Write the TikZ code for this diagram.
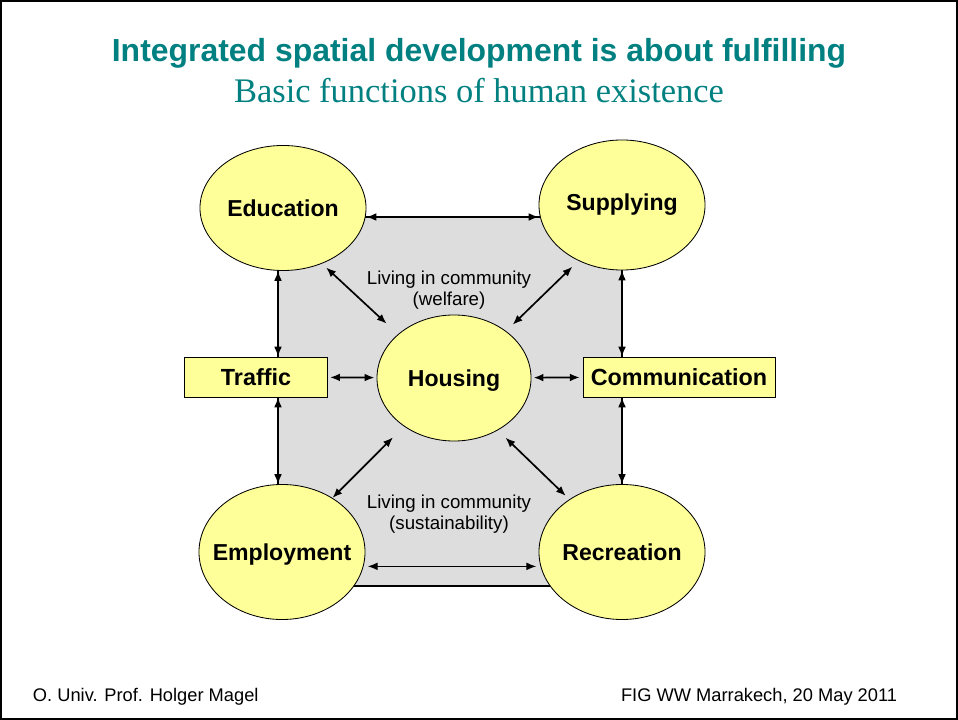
\documentclass[tikz,border=0pt]{standalone}
\usepackage{fontspec}
\setmainfont{Liberation Serif}
\setsansfont{Liberation Sans}
\usepackage{xcolor}
\usetikzlibrary{shapes.geometric, arrows.meta}

\definecolor{titleteal}{RGB}{0,128,128}
\definecolor{funcyellow}{RGB}{255,255,153}
\definecolor{commgrey}{RGB}{221,221,221}

\tikzset{
  func/.style={ellipse, draw, fill=funcyellow, line width=0.6pt, inner xsep=-14pt, inner ysep=0pt,
    font=\sffamily\bfseries\fontsize{16.4}{19}\selectfont},
  funcbox/.style={rectangle, draw, fill=funcyellow, line width=0.6pt, inner sep=0pt,
    minimum height=1cm, font=\sffamily\bfseries\fontsize{16.6}{19}\selectfont},
  biarrow/.style={line width=1.2pt, {Latex[length=7pt,width=5.5pt]}-{Latex[length=7pt,width=5.5pt]}},
  commtext/.style={align=center, font=\sffamily\fontsize{13.3}{15}\selectfont},
}

\begin{document}
\begin{tikzpicture}[x=0.025cm, y=-0.025cm]
  \useasboundingbox (0,0) rectangle (958,720);
  \draw[line width=1.6pt] (1,1) rectangle (957,719);

  % titles
  \node[text=titleteal, font=\sffamily\bfseries\fontsize{22.7}{26}\selectfont] (title) at (479,53) {Integrated spatial development is about fulfilling};
  \node[text=titleteal, font=\rmfamily\fontsize{24.5}{28}\selectfont] (subtitle) at (479,91) {Basic functions of human existence};

  % community square
  \coordinate (gtl) at (278,217);
  \coordinate (gbr) at (622,586);
  \draw[fill=commgrey, line width=0.9pt] (gtl) rectangle (gbr);

  \node[commtext] (welfare) at (449,290) {Living in community\\(welfare)};
  \node[commtext] (sustain) at (449,514) {Living in community\\(sustainability)};

  % functions
  \node[func, minimum width=4.15cm, minimum height=3.125cm] (edu) at (283,208) {Education};
  \node[func, minimum width=4.15cm, minimum height=3.25cm] (sup) at (622,205) {Supplying};
  \node[func, minimum width=3.85cm, minimum height=3.15cm, text depth=0pt] (hous) at (454,378) {Housing};
  \node[func, minimum width=4.15cm, minimum height=3.375cm, text depth=0pt] (emp) at (282,552) {Employment};
  \node[func, minimum width=4.15cm, minimum height=3.375cm] (rec) at (622,552) {Recreation};
  \node[funcbox, minimum width=3.575cm] (traf) at (256,377) {Traffic};
  \node[funcbox, minimum width=4.8cm] (com) at (679,377) {Communication};

  % connections
  \draw[biarrow, line width=1pt] (edu.east |- gtl) -- (sup.west |- gtl);
  \draw[biarrow, line width=1pt] (gtl |- edu.south) -- (gtl |- traf.north);
  \draw[biarrow, line width=1pt] (gtl |- traf.south) -- (gtl |- emp.north);
  \draw[biarrow, line width=1pt] (gbr |- sup.south) -- (gbr |- com.north);
  \draw[biarrow, line width=1pt] (gbr |- com.south) -- (gbr |- rec.north);
  \draw[biarrow, shorten <=1.5pt, shorten >=1.5pt] (traf) -- (hous);
  \draw[biarrow, shorten <=1.5pt, shorten >=2pt] (hous) -- (com);
  \draw[biarrow, shorten <=4pt, shorten >=11pt] (edu.-55) -- (hous.142);
  \draw[biarrow, shorten <=6pt, shorten >=6.5pt] (sup.-128) -- (hous.42);
  \draw[biarrow, shorten <=0pt, shorten >=11pt] (emp.47) -- (hous.-136);
  \draw[biarrow, shorten <=3.5pt, shorten >=7.5pt] (rec.135) -- (hous.-50);
  \draw[biarrow, line width=0.8pt, shorten <=3pt, shorten >=3pt] (emp.-10) -- (rec.190);

  % footer
  \node[anchor=west, font=\sffamily\fontsize{13}{15}\selectfont] (author) at (28,697) {O. Univ. Prof. Holger Magel};
  \node[anchor=east, font=\sffamily\fontsize{13}{15}\selectfont] (event) at (902,697) {FIG WW Marrakech, 20 May 2011};
\end{tikzpicture}
\end{document}
